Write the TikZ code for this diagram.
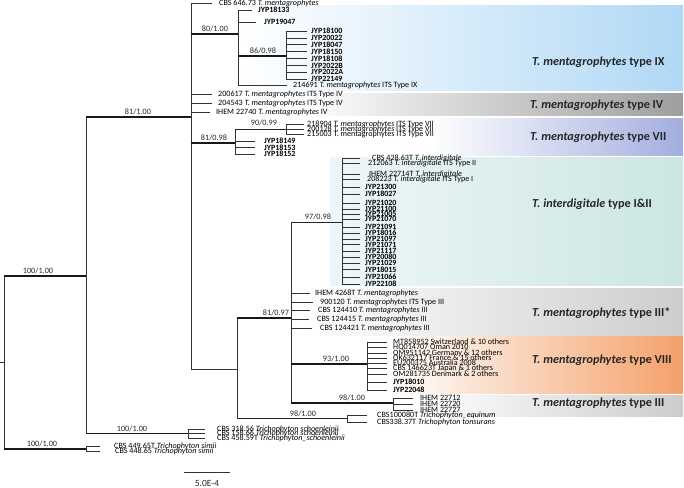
\documentclass[tikz,border=0pt]{standalone}
\usepackage{fontspec}
\setmainfont{Carlito}
\newcommand{\tmen}{\textit{T.~mentagrophytes}}
\newcommand{\tint}{\textit{T.~interdigitale}}
\definecolor{cIX}{HTML}{B0D8F5}
\definecolor{cIV}{HTML}{9E9E9E}
\definecolor{cVII}{HTML}{A3AEDF}
\definecolor{cINTl}{HTML}{EEF6FA}
\definecolor{cINT}{HTML}{CBE6E1}
\definecolor{cIIIs}{HTML}{CDCDCD}
\definecolor{cVIII}{HTML}{F4A06A}
\definecolor{cIII}{HTML}{CCCCCC}
\begin{document}
\begin{tikzpicture}[x=1pt,y=-1pt,
  br/.style={line width=0.6pt, draw=black!80},
  mid/.style={line width=1.0pt, draw=black!85},
  thk/.style={line width=1.7pt, draw=black!90},
  leaf/.style={anchor=west, inner xsep=6pt, inner ysep=0pt, font=\fontsize{8.1}{8.1}\selectfont},
  jyp/.style={leaf, font=\bfseries\fontsize{8}{8}\selectfont},
  bs/.style={anchor=south, inner sep=0.6pt, font=\fontsize{8.2}{8.2}\selectfont, text=black!85},
  grp/.style={anchor=west, inner sep=0pt, font=\bfseries\fontsize{12.2}{12.2}\selectfont, text=black!85},
]
\useasboundingbox (0,0) rectangle (684,487);
% ---------- coloured group boxes ----------
\shade[left color=white, right color=cIX] (240,6) rectangle (683,90);
\shade[left color=white, right color=cIV] (300,93) rectangle (683,115);
\shade[left color=white, right color=cVII] (430,118) rectangle (683,155);
\shade[left color=cINTl, right color=cINT] (330,157) rectangle (683,285);
\shade[left color=white, right color=cIIIs] (300,288) rectangle (683,335);
\shade[left color=white, right color=cVIII] (390,336) rectangle (683,393);
\shade[left color=white, right color=cIII] (420,395) rectangle (683,416);
\node[grp] (gIX) at (532,62) {\textit{T. mentagrophytes} type IX};
\node[grp] (gIV) at (530,105) {\textit{T. mentagrophytes} type IV};
\node[grp] (gVII) at (530,137.5) {\textit{T. mentagrophytes} type VII};
\node[grp] (gINT) at (532,204) {\textit{T. interdigitale} type I\&II};
\node[grp] (gIIIs) at (532,313) {\textit{T. mentagrophytes} type III*};
\node[grp] (gVIII) at (532,360) {\textit{T. mentagrophytes} type VIII};
\node[grp] (gIII) at (532,403) {\textit{T. mentagrophytes} type III};
% ---------- internal nodes ----------
\coordinate (R0) at (0,362.5);
\coordinate (R) at (4,362.5);
\coordinate (N1) at (86,276);
\coordinate (Nsim) at (86,449);
\coordinate (Nsch) at (188,433.5);
\coordinate (N2) at (191,117);
\coordinate (N3) at (238,34);
\coordinate (N4) at (286,56);
\coordinate (N5) at (235,143);
\coordinate (N6) at (286,129);
\coordinate (N7) at (237,369);
\coordinate (N8) at (291,318);
\coordinate (N9) at (342,222);
\coordinate (N10) at (367,364);
\coordinate (N11) at (393,403);
\coordinate (N12) at (347,418.5);
% ---------- leaves ----------
\node[leaf, inner xsep=7pt] (a1) at (212,3.8) {CBS 646.73 \tmen};
\node[leaf] (a2) at (212,94) {200617 \tmen{} ITS Type IV};
\node[leaf] (a3) at (212,103) {204543 \tmen{} ITS Type IV};
\node[leaf] (a4) at (210,112) {IHEM 22740 \tmen{} IV};
\node[jyp] (b1) at (252,10) {JYP18133};
\node[jyp, inner xsep=8pt] (b2) at (256,22) {JYP19047};
\node[leaf] (b3) at (287,85) {214691 \tmen{} ITS Type IX};
\foreach \t/\y [count=\i] in {JYP18100/31,JYP20022/37.9,JYP18047/44.8,JYP18150/51.7,JYP18108/58.6,JYP2022B/65.5,JYP2022A/72.4,JYP22149/79.3}
  \node[jyp, inner xsep=4pt] (c\i) at (307,\y) {\t};
\node[jyp, inner xsep=9pt] (d1) at (255,141) {JYP18149};
\node[jyp, inner xsep=9pt] (d2) at (255,147.5) {JYP18153};
\node[jyp, inner xsep=9pt] (d3) at (255,154) {JYP18152};
\node[leaf, inner xsep=3pt] (e1) at (304,124.5) {218904 \tmen{} ITS Type VII};
\node[leaf, inner xsep=3pt] (e2) at (304,129.5) {200128 \tmen{} ITS Type VII};
\node[leaf, inner xsep=3pt] (e3) at (304,134) {215003 T.~mentagrophytes ITS Type VII};
\node[leaf, inner xsep=12pt] (f1) at (360,158) {CBS 428.63T \tint};
\node[leaf, inner xsep=8pt] (f2) at (360,163.5) {212063 \tint{} ITS Type II};
\node[leaf, inner xsep=9pt] (f3) at (360,174) {IHEM 22714T \tint};
\node[leaf, inner xsep=7pt] (f4) at (360,179.5) {208223 \tint{} ITS Type I};
\foreach \t/\y [count=\i from 5] in {JYP21300/187,JYP18027/194,JYP21020/203,JYP21100/209,JYP21005/214,JYP21070/219,JYP21091/227,JYP18016/233,JYP21097/239,JYP21071/244.5,JYP21117/251,JYP20080/257,JYP21029/263,JYP18015/269.5,JYP21066/277,JYP22108/284}
  \node[jyp, inner xsep=5pt] (f\i) at (360,\y) {\t};
\node[leaf, inner xsep=5pt] (g1) at (310,293) {IHEM 4268T \tmen};
\node[leaf, inner xsep=7pt] (g2) at (313,302) {900120 \tmen{} ITS Type III};
\node[leaf, inner xsep=8pt] (g3) at (310,310.5) {CBS 124410 \tmen{} III};
\node[leaf, inner xsep=8pt] (g4) at (309,319) {CBS 124415 \tmen{} III};
\node[leaf, inner xsep=8pt] (g5) at (312,328) {CBS 124421 \tmen{} III};
\foreach \t/\y [count=\i] in {MT858952 Switzerland \& 10 others/342,HQ014707 Oman 2010/347.5,OM951142 Germany \& 12 others/353,OK632117 France \& 15 others/358,EU200375 Australia 2008/363,CBS 146623T Japan \& 1 others/368,OM281735 Denmark \& 2 others/374}
  \node[leaf] (h\i) at (387,\y) {\t};
\node[jyp] (h8) at (387,382) {JYP18010};
\node[jyp] (h9) at (387,390) {JYP22048};
\node[leaf, inner xsep=7pt] (i1) at (413,398) {IHEM 22712};
\node[leaf, inner xsep=7pt] (i2) at (413,404) {IHEM 22720};
\node[leaf, inner xsep=7pt] (i3) at (413,410) {IHEM 22727};
\node[leaf, inner xsep=10pt] (j1) at (367,415) {CBS100080T \textit{Trichophyton\_equinum}};
\node[leaf, inner xsep=10pt] (j2) at (367,422) {CBS338.37T \textit{Trichophyton tonsurans}};
\node[leaf, inner xsep=12pt] (k1) at (205,429) {CBS 318.56 \textit{Trichophyton schoenleinii}};
\node[leaf, inner xsep=12pt] (k2) at (205,433.5) {CBS 158.66 \textit{Trichophyton schoenleinii}};
\node[leaf, inner xsep=12pt] (k3) at (205,438) {CBS 458.59T \textit{Trichophyton\_schoenleinii}};
\node[leaf, inner xsep=14pt] (m1) at (100,446.5) {CBS 449.65T \textit{Trichophyton simii}};
\node[leaf, inner xsep=15pt] (m2) at (100,451) {CBS 448.65 \textit{Trichophyton simii}};
% ---------- vertical lines ----------
\draw[br] (R |- N1) -- (R |- Nsim);
\draw[br] (N1 |- N2) -- (N1 |- Nsch);
\draw[br] (Nsim |- m1.west) -- (Nsim |- m2.west);
\draw[br] (Nsch |- k1.west) -- (Nsch |- k3.west);
\draw[br] (N2 |- a1.west) -- (N2 |- N7);
\draw[br] (N3 |- b1.west) -- (N3 |- b3.west);
\draw[br] (N4 |- c1.west) -- (N4 |- c8.west);
\draw[br] (N5 |- N6) -- (N5 |- d3.west);
\draw[br] (N6 |- e1.west) -- (N6 |- e3.west);
\draw[br] (N7 |- N8) -- (N7 |- N12);
\draw[br] (N8 |- N9) -- (N8 |- N11);
\draw[br] (N9 |- f1.west) -- (N9 |- f20.west);
\draw[br] (N10 |- h1.west) -- (N10 |- h9.west);
\draw[br] (N11 |- i1.west) -- (N11 |- i3.west);
\draw[br] (N12 |- j1.west) -- (N12 |- j2.west);
% ---------- horizontal branches to internal nodes ----------
\draw[br] (R0) -- (R);
\draw[thk] (R |- N1) -- (N1);
\draw[thk] (R |- Nsim) -- (Nsim);
\draw[thk] (N1 |- N2) -- (N2);
\draw[thk] (N1 |- Nsch) -- (Nsch);
\draw[thk] (N2 |- N3) -- (N3);
\draw[thk] (N2 |- N5) -- (N5);
\draw[br] (N2 |- N7) -- (N7);
\draw[thk] (N3 |- N4) -- (N4);
\draw[mid] (N5 |- N6) -- (N6);
\draw[thk] (N7 |- N8) -- (N8);
\draw[mid] (N7 |- N12) -- (N12);
\draw[mid] (N8 |- N9) -- (N9);
\draw[thk] (N8 |- N10) -- (N10);
\draw[thk] (N8 |- N11) -- (N11);
% ---------- leaf branches ----------
\foreach \n/\p in {a1/N2,a2/N2,a3/N2,a4/N2,b1/N3,b2/N3,b3/N3,d1/N5,d2/N5,d3/N5,e1/N6,e2/N6,e3/N6,g1/N8,g2/N8,g3/N8,g4/N8,g5/N8,i1/N11,i2/N11,i3/N11,j1/N12,j2/N12,k1/Nsch,k2/Nsch,k3/Nsch,m1/Nsim,m2/Nsim}
  \draw[br] (\p |- \n.west) -- (\n.west);
\foreach \i in {1,...,8} \draw[br] (N4 |- c\i.west) -- (c\i.west);
\foreach \i in {1,...,20} \draw[br] (N9 |- f\i.west) -- (f\i.west);
\foreach \i in {1,...,9} \draw[br] (N10 |- h\i.west) -- (h\i.west);
% ---------- support values ----------
\node[bs] (s1) at (38,275) {100/1.00};
\node[bs] (s2) at (42,448) {100/1.00};
\node[bs] (s3) at (132,432.5) {100/1.00};
\node[bs] (s4) at (138,116) {81/1.00};
\node[bs] (s5) at (215,33) {80/1.00};
\node[bs] (s6) at (263,55) {86/0.98};
\node[bs] (s7) at (214,142) {81/0.98};
\node[bs] (s8) at (264,127) {90/0.99};
\node[bs] (s9) at (318,221) {97/0.98};
\node[bs] (s10) at (276,317) {81/0.97};
\node[bs] (s11) at (336,363) {93/1.00};
\node[bs] (s12) at (352,402) {98/1.00};
\node[bs] (s13) at (303,418) {98/1.00};
% ---------- scale bar ----------
\coordinate (sb1) at (184,472);
\coordinate (sb2) at (230,472);
\draw[br] (sb1) -- (sb2);
\node[font=\fontsize{9.5}{9.5}\selectfont, text=black!85] (sbl) at (207,483) {5.0E-4};
\end{tikzpicture}
\end{document}
